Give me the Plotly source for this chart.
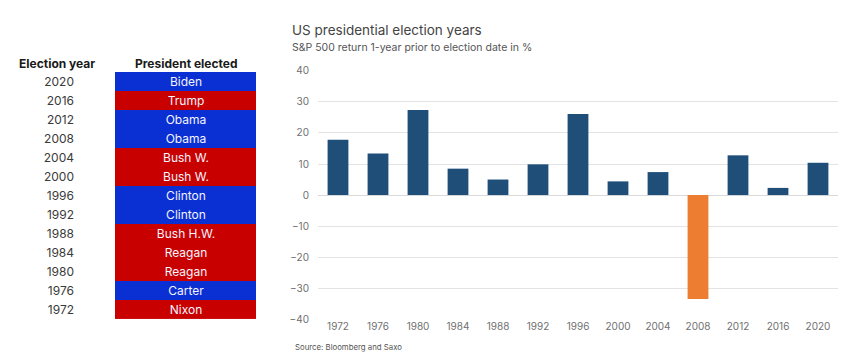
import plotly.graph_objects as go

# ---- data ----
years = ["1972", "1976", "1980", "1984", "1988", "1992", "1996",
         "2000", "2004", "2008", "2012", "2016", "2020"]
sp500_return = [17.8, 13.4, 27.4, 8.5, 5.0, 9.9, 26.1, 4.4, 7.4, -33.5, 12.8, 2.3, 10.4]

table_years = ["2020", "2016", "2012", "2008", "2004", "2000", "1996",
               "1992", "1988", "1984", "1980", "1976", "1972"]
presidents = ["Biden", "Trump", "Obama", "Obama", "Bush W.", "Bush W.", "Clinton",
              "Clinton", "Bush H.W.", "Reagan", "Reagan", "Carter", "Nixon"]
party = ["D", "R", "D", "D", "R", "R", "D", "D", "R", "R", "R", "D", "R"]

y_ticks = [40, 30, 20, 10, 0, -10, -20, -30, -40]

# ---- styles / geometry (page has an 8px body margin on every side) ----
OFF = 8
W, H = 857 - 2 * OFF, 364 - 2 * OFF
BLUE = "#0a2fd2"
RED = "#c80000"
NAVY = "#1f4e79"
ORANGE = "#ed7d31"
FONT = "Inter"


def px(x):
    return (x - OFF) / W


def py(y):
    return 1 - (y - OFF) / H


bar_colors = [ORANGE if v < 0 else NAVY for v in sp500_return]
party_z = [[0 if p == "D" else 1] for p in party]

fig = go.Figure()

fig.add_trace(go.Bar(
    x=years, y=sp500_return, marker=dict(color=bar_colors, line=dict(width=0)),
    width=0.52, showlegend=False, hoverinfo="x+y",
))

fig.add_trace(go.Heatmap(
    z=party_z, x=["President elected"], y=table_years,
    text=[[p] for p in presidents], texttemplate="%{text}",
    textfont=dict(family=FONT, size=12, color="#f4f4ff"),
    colorscale=[[0, BLUE], [1, RED]], zmin=0, zmax=1, showscale=False,
    xaxis="x2", yaxis="y2", hoverinfo="skip",
))

fig.update_layout(
    width=W, height=H,
    margin=dict(l=0, r=0, t=0, b=0),
    paper_bgcolor="white", plot_bgcolor="white",
    font=dict(family=FONT, color="#555"),
    xaxis=dict(domain=[px(318), px(838)], type="category",
               tickfont=dict(size=10, color="#707070"), showgrid=False,
               showline=False, ticks="", ticklen=0),
    yaxis=dict(domain=[py(324), py(67)], range=[-40, 40], tickvals=y_ticks,
               tickfont=dict(size=10, color="#707070"), showgrid=True,
               gridcolor="#e3e3e3", gridwidth=1, zeroline=True,
               zerolinecolor="#d9d9d9", zerolinewidth=1, ticks="",
               ticklabelstandoff=8),
    xaxis2=dict(domain=[px(115), px(256)], anchor="y2", visible=False),
    yaxis2=dict(domain=[py(324), py(68)], anchor="x2", type="category",
                autorange="reversed", showgrid=False, zeroline=False,
                showline=False, ticks="", ticklabelstandoff=40,
                tickfont=dict(family=FONT, size=12, color="#3a3a3a")),
    annotations=[
        dict(text="<b>Election year</b>", x=px(57), y=py(59),
             xref="paper", yref="paper", xanchor="center", yanchor="middle",
             showarrow=False, font=dict(family=FONT, size=12, color="#1a1a1a")),
        dict(text="<b>President elected</b>", x=px(186), y=py(59),
             xref="paper", yref="paper", xanchor="center", yanchor="middle",
             showarrow=False, font=dict(family=FONT, size=12, color="#1a1a1a")),
        dict(text="US presidential election years", x=px(290), y=py(25),
             xref="paper", yref="paper", xanchor="left", yanchor="middle",
             showarrow=False, font=dict(family=FONT, size=13.5, color="#444")),
        dict(text="S&P 500 return 1-year prior to election date in %", x=px(290),
             y=py(43), xref="paper", yref="paper", xanchor="left",
             yanchor="middle", showarrow=False,
             font=dict(family=FONT, size=10.5, color="#555")),
        dict(text="Source: Bloomberg and Saxo", x=px(293), y=py(353),
             xref="paper", yref="paper", xanchor="left", yanchor="middle",
             showarrow=False, font=dict(family=FONT, size=7.8, color="#555")),
    ],
)

fig.write_html("out.html")
